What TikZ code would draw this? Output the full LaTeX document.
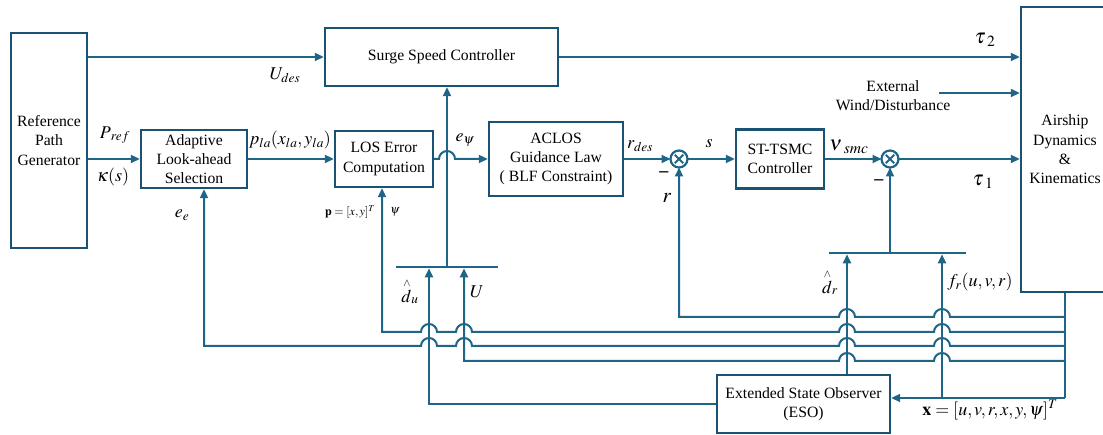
\documentclass[tikz,border=0pt]{standalone}
\usepackage{mathptmx}
\usepackage{fontspec}
\setmainfont{Liberation Serif}
\usetikzlibrary{arrows.meta, positioning, calc}
\definecolor{boxline}{HTML}{1A5273}
\definecolor{wire}{HTML}{1F6587}
% line hopping over a vertical wire (leftwards / rightwards)
\newcommand{\hopl}[2]{-- ({#1+8},#2) arc[start angle=0,end angle=180,radius=8]}
\newcommand{\hopr}[2]{-- ({#1-8},#2) arc[start angle=180,end angle=0,radius=8]}
\newcommand{\dhat}{{\mathord{\stackrel{\scriptscriptstyle\wedge}{d}}}}

\begin{document}
\begin{tikzpicture}[
  x=1pt, y=1pt,
  box/.style={rectangle, draw=boxline, line width=2.4pt, align=center, inner sep=0pt, font=\fontsize{15.7}{19.3}\selectfont},
  sum/.style={circle, draw=wire, line width=2.2pt, minimum size=17pt, inner sep=0pt, outer sep=0pt},
  bar/.style={rectangle, fill=wire, minimum height=2.6pt, inner sep=0pt, outer sep=0pt},
  wire/.style={draw=wire, line width=2pt},
  arrow/.style={wire, -{Triangle[length=9pt, width=8pt]}},
  txt/.style={align=center, inner sep=0pt, font=\fontsize{15.7}{19}\selectfont},
  lbl/.style={inner sep=0pt, font=\fontsize{18}{20}\selectfont},
  big/.style={inner sep=0pt, font=\fontsize{21}{22}\selectfont},
  small/.style={inner sep=0pt, font=\fontsize{12}{14}\selectfont}
]
  \useasboundingbox (0,0) rectangle (1103,435);

  % blocks
  \node[box, minimum width=76pt, minimum height=215pt] (refgen) at (49,294.5) {Reference\\Path\\Generator};
  \node[box, minimum width=233pt, minimum height=58pt] (surge) at (441.5,378) {Surge Speed Controller};
  \node[box, minimum width=106pt, minimum height=58pt] (lookahead) at (194,276) {Adaptive\\Look-ahead\\Selection};
  \node[box, minimum width=98pt, minimum height=56pt] (loserr) at (384,276) {LOS Error\\Computation};
  \node[box, minimum width=134pt, minimum height=74pt] (aclos) at (556,276) {ACLOS\\Guidance Law\\( BLF Constraint)};
  \node[sum] (sumr) at (679,276) {};
  \node[box, minimum width=88pt, minimum height=59pt] (tsmc) at (780,276) {ST-TSMC\\Controller};
  \node[sum] (sumtau) at (890,276) {};
  \node[box, minimum width=88pt, minimum height=285pt] (airship) at (1065,285.5) {Airship\\Dynamics\\\&\\Kinematics};
  \node[box, minimum width=173pt, minimum height=58pt] (eso) at (803.5,31) {Extended State Observer\\(ESO)};
  \node[txt] (wind) at (893,339.5) {External\\Wind/Disturbance};
  \node[bar, minimum width=102pt] (baru) at (447,168) {};
  \node[bar, minimum width=137pt] (barr) at (897.5,182) {};

  \foreach \s in {sumr, sumtau}
    \draw[wire] (\s.center) ++(45:6) -- ++(225:12) (\s.center) ++(135:6) -- ++(315:12);

  % forward path
  \draw[arrow] (refgen.east |- surge.west) -- (surge.west);
  \draw[arrow] (refgen.east |- lookahead.west) -- (lookahead.west);
  \draw[arrow] (lookahead) -- (loserr);
  \draw[arrow] (loserr.east) \hopr{447}{276} -- (aclos.west);
  \draw[arrow] (aclos) -- (sumr);
  \draw[arrow] (sumr) -- (tsmc);
  \draw[arrow] (tsmc) -- (sumtau);
  \draw[arrow] (sumtau) -- (sumtau -| airship.west);
  \draw[arrow] (surge.east) -- (surge.east -| airship.west);
  \coordinate (windin) at (939,342);
  \draw[arrow] (windin) -- (windin -| airship.west);
  \draw[arrow] (baru.north) -- (baru.north |- surge.south);
  \draw[arrow] (barr.north -| sumtau) -- (sumtau.south);

  % state bus and observer
  \coordinate (busend) at (1065,37);
  \coordinate (frin) at (942,37);
  \coordinate (drin) at (847,0);
  \coordinate (duin) at (429,0);
  \coordinate (uin) at (464,0);
  \draw[wire] (airship.south) -- (busend);
  \draw[arrow] (busend) -- (busend -| eso.east);
  \draw[arrow] (frin) -- (frin |- barr.south);
  \draw[arrow] (eso.north -| drin) -- (drin |- barr.south);
  \draw[arrow] (eso.west) -| (duin |- baru.south);

  % feedback taps
  \coordinate (tapr) at (1065,118);
  \coordinate (tapp) at (1065,103);
  \coordinate (tape) at (1065,89);
  \coordinate (tapu) at (1065,74);
  \draw[arrow] (tapr) \hopl{942}{118} \hopl{847}{118} -| (sumr.south);
  \draw[arrow] (tapp) \hopl{942}{103} \hopl{847}{103} \hopl{464}{103} \hopl{429}{103} -| ([xshift=-2pt]loserr.south);
  \draw[arrow] (tape) \hopl{942}{89} \hopl{847}{89} \hopl{464}{89} \hopl{429}{89} -| ([xshift=10pt]lookahead.south);
  \draw[arrow] (tapu) \hopl{942}{74} \hopl{847}{74} -| (uin |- baru.south);

  % labels
  \node[lbl] (udes) at (285,360) {$U_{des}$};
  \node[lbl] (pref) at (115,300) {$P_{\mkern3mu ref}$};
  \node[lbl] (kappa) at (113,258) {$\kappa(s)$};
  \node[lbl] (pla) at (290,295) {$p_{la}(x_{la},y_{la})$};
  \node[lbl] (epsi) at (465,295) {$e_{\psi}$};
  \node[lbl] (rdes) at (640,289) {$r_{des}$};
  \node[lbl] (slbl) at (709,291) {$s$};
  \node[big] (nusmc) at (849,288) {$\nu_{\mkern4mu smc}$};
  \node[big] (tautwo) at (985,395) {$\tau_{\mkern4mu 2}$};
  \node[big] (tauone) at (983,253) {$\tau_{\mkern4mu 1}$};
  \node[lbl] (minr) at (664,261) {\textbf{--}};
  \node[lbl] (mintau) at (879,253) {\textbf{--}};
  \node[big] (rlbl) at (667,237) {$r$};
  \node[lbl] (ee) at (182,220) {$e_e$};
  \node[small] (plbl) at (350,223) {$\mathbf{p}=[x,y]^T$};
  \node[small] (psi) at (395,223) {$\psi$};
  \node[lbl] (du) at (410,144) {$\dhat_u$};
  \node[lbl] (ulbl) at (477,143) {$U$};
  \node[lbl] (dr) at (830,153) {$\dhat_r$};
  \node[lbl] (fr) at (980,153) {$f_r(u,v,r)$};
  \node[lbl] (xstate) at (990,25) {$\mathbf{x}=[u,v,r,x,y,\psi]^T$};
\end{tikzpicture}
\end{document}
